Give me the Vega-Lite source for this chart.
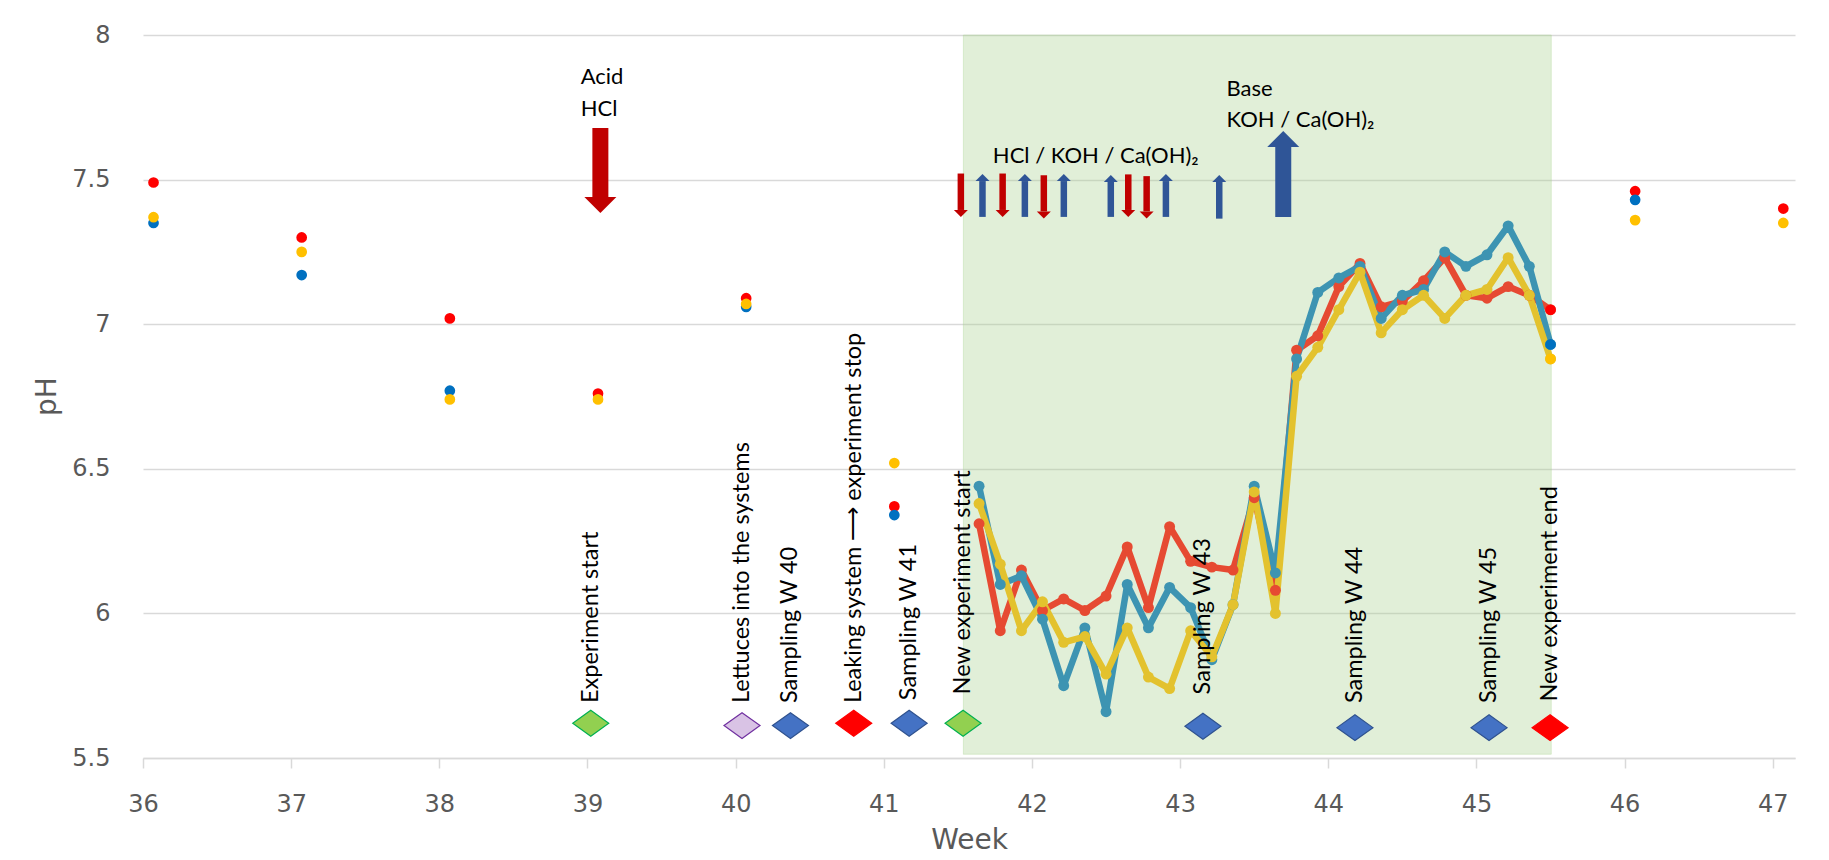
{
  "$schema": "https://vega.github.io/schema/vega-lite/v6.json",
  "width": 1652,
  "height": 723,
  "autosize": {"type": "none"},
  "padding": {"left": 143, "top": 35, "right": 34, "bottom": 102},
  "background": "white",
  "config": {
    "view": {"stroke": null},
    "font": "Lato",
    "axisX": {"grid": false, "domain": true, "domainColor": "#D9D9D9", "domainWidth": 1.5,
      "ticks": true, "tickColor": "#D9D9D9", "tickSize": 10, "tickWidth": 1.5,
      "labelFont": "DejaVu Sans", "labelFontSize": 24, "labelColor": "#595959", "labelPadding": 24, "labelDx": 10,
      "labelFlush": false, "labelOverlap": false,
      "titleFont": "DejaVu Sans", "titleFontSize": 28, "titleFontWeight": "normal", "titleColor": "#595959",
      "titleX": 826, "titleY": 82, "titleAlign": "center", "titleBaseline": "middle"},
    "axisY": {"grid": true, "gridColor": "#D9D9D9", "gridWidth": 1.5, "domain": false, "ticks": false,
      "labelFont": "DejaVu Sans", "labelFontSize": 24, "labelColor": "#595959", "labelPadding": 33,
      "titleFont": "DejaVu Sans", "titleFontSize": 28, "titleFontWeight": "normal", "titleColor": "#595959",
      "titleX": -96, "titleY": 361, "titleAngle": 270, "titleAlign": "center", "titleBaseline": "middle"}
  },
  "datasets": {
    "period": [{"start": 41.537, "end": 45.505, "low": 5.513, "high": 8}],
    "lines": [
      {"system": "A", "week": 41.643, "ph": 6.31}, {"system": "A", "week": 41.786, "ph": 5.94}, {"system": "A", "week": 41.929, "ph": 6.15}, {"system": "A", "week": 42.071, "ph": 6.01},
      {"system": "A", "week": 42.214, "ph": 6.05}, {"system": "A", "week": 42.357, "ph": 6.01}, {"system": "A", "week": 42.5, "ph": 6.06}, {"system": "A", "week": 42.643, "ph": 6.23},
      {"system": "A", "week": 42.786, "ph": 6.02}, {"system": "A", "week": 42.929, "ph": 6.30}, {"system": "A", "week": 43.071, "ph": 6.18}, {"system": "A", "week": 43.214, "ph": 6.16},
      {"system": "A", "week": 43.357, "ph": 6.15}, {"system": "A", "week": 43.5, "ph": 6.40}, {"system": "A", "week": 43.643, "ph": 6.08}, {"system": "A", "week": 43.786, "ph": 6.91},
      {"system": "A", "week": 43.929, "ph": 6.96}, {"system": "A", "week": 44.071, "ph": 7.13}, {"system": "A", "week": 44.214, "ph": 7.21}, {"system": "A", "week": 44.357, "ph": 7.06},
      {"system": "A", "week": 44.5, "ph": 7.08}, {"system": "A", "week": 44.643, "ph": 7.15}, {"system": "A", "week": 44.786, "ph": 7.23}, {"system": "A", "week": 44.929, "ph": 7.10},
      {"system": "A", "week": 45.071, "ph": 7.09}, {"system": "A", "week": 45.214, "ph": 7.13}, {"system": "A", "week": 45.357, "ph": 7.10}, {"system": "A", "week": 45.5, "ph": 7.05},
      {"system": "B", "week": 41.643, "ph": 6.44}, {"system": "B", "week": 41.786, "ph": 6.10}, {"system": "B", "week": 41.929, "ph": 6.13}, {"system": "B", "week": 42.071, "ph": 5.98},
      {"system": "B", "week": 42.214, "ph": 5.75}, {"system": "B", "week": 42.357, "ph": 5.95}, {"system": "B", "week": 42.5, "ph": 5.66}, {"system": "B", "week": 42.643, "ph": 6.10},
      {"system": "B", "week": 42.786, "ph": 5.95}, {"system": "B", "week": 42.929, "ph": 6.09}, {"system": "B", "week": 43.071, "ph": 6.02}, {"system": "B", "week": 43.214, "ph": 5.84},
      {"system": "B", "week": 43.357, "ph": 6.03}, {"system": "B", "week": 43.5, "ph": 6.44}, {"system": "B", "week": 43.643, "ph": 6.14}, {"system": "B", "week": 43.786, "ph": 6.88},
      {"system": "B", "week": 43.929, "ph": 7.11}, {"system": "B", "week": 44.071, "ph": 7.16}, {"system": "B", "week": 44.214, "ph": 7.20}, {"system": "B", "week": 44.357, "ph": 7.02},
      {"system": "B", "week": 44.5, "ph": 7.10}, {"system": "B", "week": 44.643, "ph": 7.12}, {"system": "B", "week": 44.786, "ph": 7.25}, {"system": "B", "week": 44.929, "ph": 7.20},
      {"system": "B", "week": 45.071, "ph": 7.24}, {"system": "B", "week": 45.214, "ph": 7.34}, {"system": "B", "week": 45.357, "ph": 7.20}, {"system": "B", "week": 45.5, "ph": 6.93},
      {"system": "C", "week": 41.643, "ph": 6.38}, {"system": "C", "week": 41.786, "ph": 6.17}, {"system": "C", "week": 41.929, "ph": 5.94}, {"system": "C", "week": 42.071, "ph": 6.04},
      {"system": "C", "week": 42.214, "ph": 5.90}, {"system": "C", "week": 42.357, "ph": 5.92}, {"system": "C", "week": 42.5, "ph": 5.79}, {"system": "C", "week": 42.643, "ph": 5.95},
      {"system": "C", "week": 42.786, "ph": 5.78}, {"system": "C", "week": 42.929, "ph": 5.74}, {"system": "C", "week": 43.071, "ph": 5.94}, {"system": "C", "week": 43.214, "ph": 5.85},
      {"system": "C", "week": 43.357, "ph": 6.03}, {"system": "C", "week": 43.5, "ph": 6.42}, {"system": "C", "week": 43.643, "ph": 6.00}, {"system": "C", "week": 43.786, "ph": 6.82},
      {"system": "C", "week": 43.929, "ph": 6.92}, {"system": "C", "week": 44.071, "ph": 7.05}, {"system": "C", "week": 44.214, "ph": 7.18}, {"system": "C", "week": 44.357, "ph": 6.97},
      {"system": "C", "week": 44.5, "ph": 7.05}, {"system": "C", "week": 44.643, "ph": 7.10}, {"system": "C", "week": 44.786, "ph": 7.02}, {"system": "C", "week": 44.929, "ph": 7.10},
      {"system": "C", "week": 45.071, "ph": 7.12}, {"system": "C", "week": 45.214, "ph": 7.23}, {"system": "C", "week": 45.357, "ph": 7.10}, {"system": "C", "week": 45.5, "ph": 6.88}
    ],
    "dots": [
      {"system": "A", "week": 36.071, "ph": 7.49}, {"system": "B", "week": 36.071, "ph": 7.35}, {"system": "C", "week": 36.071, "ph": 7.37},
      {"system": "A", "week": 37.071, "ph": 7.30}, {"system": "B", "week": 37.071, "ph": 7.17}, {"system": "C", "week": 37.071, "ph": 7.25},
      {"system": "A", "week": 38.071, "ph": 7.02}, {"system": "B", "week": 38.071, "ph": 6.77}, {"system": "C", "week": 38.071, "ph": 6.74},
      {"system": "A", "week": 39.071, "ph": 6.76}, {"system": "C", "week": 39.071, "ph": 6.74},
      {"system": "A", "week": 40.071, "ph": 7.09}, {"system": "B", "week": 40.071, "ph": 7.06}, {"system": "C", "week": 40.071, "ph": 7.07},
      {"system": "A", "week": 41.071, "ph": 6.37}, {"system": "B", "week": 41.071, "ph": 6.34}, {"system": "C", "week": 41.071, "ph": 6.52},
      {"system": "A", "week": 45.5, "ph": 7.05}, {"system": "B", "week": 45.5, "ph": 6.93}, {"system": "C", "week": 45.5, "ph": 6.88},
      {"system": "A", "week": 46.071, "ph": 7.46}, {"system": "B", "week": 46.071, "ph": 7.43}, {"system": "C", "week": 46.071, "ph": 7.36},
      {"system": "A", "week": 47.071, "ph": 7.40}, {"system": "C", "week": 47.071, "ph": 7.35}
    ],
    "events": [
      {"week": 39.022, "ph": 5.62, "textph": 5.69, "label": "Experiment start", "kind": "start"},
      {"week": 40.043, "ph": 5.612, "textph": 5.69, "label": "Lettuces into the systems", "kind": "lettuce"},
      {"week": 40.37, "ph": 5.612, "textph": 5.69, "label": "Sampling W 40", "kind": "sampling"},
      {"week": 40.797, "ph": 5.62, "textph": 5.69, "label": "Leaking system ⟶ experiment stop", "kind": "stop"},
      {"week": 41.171, "ph": 5.62, "textph": 5.70, "label": "Sampling W 41", "kind": "sampling"},
      {"week": 41.535, "ph": 5.62, "textph": 5.72, "label": "New experiment start", "kind": "start"},
      {"week": 43.154, "ph": 5.61, "textph": 5.72, "label": "Sampling W 43", "kind": "sampling"},
      {"week": 44.18, "ph": 5.605, "textph": 5.69, "label": "Sampling W 44", "kind": "sampling"},
      {"week": 45.085, "ph": 5.605, "textph": 5.69, "label": "Sampling W 45", "kind": "sampling"},
      {"week": 45.497, "ph": 5.605, "textph": 5.695, "label": "New experiment end", "kind": "stop"}
    ],
    "notes": [
      {"week": 38.954, "ph": 7.83, "text": "Acid"},
      {"week": 38.954, "ph": 7.72, "text": "HCl"},
      {"week": 41.736, "ph": 7.558, "text": "HCl / KOH / Ca(OH)₂"},
      {"week": 43.313, "ph": 7.789, "text": "Base"},
      {"week": 43.313, "ph": 7.683, "text": "KOH / Ca(OH)₂"}
    ],
    "arrows": [
      {"week": 39.087, "tail": 7.678, "neck": 7.44, "dir": "down", "dose": "large"},
      {"week": 43.696, "tail": 7.371, "neck": 7.613, "dir": "up", "dose": "large"},
      {"week": 41.52, "tail": 7.521, "neck": 7.395, "dir": "down", "dose": "small"},
      {"week": 41.666, "tail": 7.371, "neck": 7.495, "dir": "up", "dose": "small"},
      {"week": 41.802, "tail": 7.521, "neck": 7.395, "dir": "down", "dose": "small"},
      {"week": 41.952, "tail": 7.371, "neck": 7.495, "dir": "up", "dose": "small"},
      {"week": 42.08, "tail": 7.515, "neck": 7.39, "dir": "down", "dose": "small"},
      {"week": 42.215, "tail": 7.371, "neck": 7.495, "dir": "up", "dose": "small"},
      {"week": 42.532, "tail": 7.371, "neck": 7.492, "dir": "up", "dose": "small"},
      {"week": 42.65, "tail": 7.518, "neck": 7.395, "dir": "down", "dose": "small"},
      {"week": 42.774, "tail": 7.512, "neck": 7.39, "dir": "down", "dose": "small"},
      {"week": 42.904, "tail": 7.371, "neck": 7.495, "dir": "up", "dose": "small"},
      {"week": 43.264, "tail": 7.365, "neck": 7.492, "dir": "up", "dose": "small"}
    ]
  },
  "layer": [
    {
      "data": {"name": "period"},
      "mark": {"type": "rect", "fill": "#A9D18E", "fillOpacity": 0.35, "stroke": "#A9D18E", "strokeOpacity": 0.35, "strokeWidth": 1},
      "encoding": {
        "x": {"field": "start", "type": "quantitative", "title": "Week",
          "scale": {"domain": [36, 47.15], "nice": false, "zero": false},
          "axis": {"values": [36, 37, 38, 39, 40, 41, 42, 43, 44, 45, 46, 47], "format": "d", "title": "Week"}},
        "x2": {"field": "end"},
        "y": {"field": "low", "type": "quantitative", "title": "pH",
          "scale": {"domain": [5.5, 8], "nice": false, "zero": false},
          "axis": {"values": [5.5, 6, 6.5, 7, 7.5, 8], "format": "~g", "title": "pH"}},
        "y2": {"field": "high"}
      }
    },
    {
      "data": {"name": "lines"},
      "mark": {"type": "line", "strokeWidth": 6.5, "strokeJoin": "round", "point": {"filled": true, "size": 120, "opacity": 1}},
      "encoding": {
        "x": {"field": "week", "type": "quantitative"},
        "y": {"field": "ph", "type": "quantitative"},
        "color": {"field": "system", "type": "nominal", "scale": {"domain": ["A", "B", "C"], "range": ["#E64A32", "#3D94B2", "#E3C22E"]}, "legend": null}
      }
    },
    {
      "data": {"name": "dots"},
      "mark": {"type": "point", "filled": true, "size": 115, "opacity": 1},
      "encoding": {
        "x": {"field": "week", "type": "quantitative"},
        "y": {"field": "ph", "type": "quantitative"},
        "color": {"field": "system", "type": "nominal", "scale": {"domain": ["A", "B", "C"], "range": ["#FF0000", "#0070C0", "#FFC000"]}, "legend": null}
      }
    },
    {
      "data": {"name": "events"},
      "mark": {"type": "point", "filled": true, "size": 1296, "shape": "M-1,0L0,-0.72L1,0L0,0.72Z", "opacity": 1, "strokeWidth": 1.2},
      "encoding": {
        "x": {"field": "week", "type": "quantitative"},
        "y": {"field": "ph", "type": "quantitative"},
        "fill": {"field": "kind", "type": "nominal", "scale": {"domain": ["start", "lettuce", "sampling", "stop"], "range": ["#92D050", "#D9C3E5", "#4472C4", "#FF0000"]}, "legend": null},
        "stroke": {"field": "kind", "type": "nominal", "scale": {"domain": ["start", "lettuce", "sampling", "stop"], "range": ["#00B050", "#7030A0", "#2F528F", "#FF0000"]}, "legend": null}
      }
    },
    {
      "data": {"name": "events"},
      "mark": {"type": "text", "angle": 270, "align": "left", "baseline": "middle", "font": "Lato", "fontSize": 23.5, "color": "#000000"},
      "encoding": {
        "x": {"field": "week", "type": "quantitative"},
        "y": {"field": "textph", "type": "quantitative"},
        "text": {"field": "label"}
      }
    },
    {
      "data": {"name": "arrows"},
      "mark": {"type": "rule", "strokeCap": "butt"},
      "encoding": {
        "x": {"field": "week", "type": "quantitative"},
        "y": {"field": "tail", "type": "quantitative"},
        "y2": {"field": "neck"},
        "color": {"field": "dir", "type": "nominal", "scale": {"domain": ["down", "up"], "range": ["#C00000", "#2F5597"]}, "legend": null},
        "size": {"field": "dose", "type": "ordinal", "scale": {"domain": ["large", "small"], "range": [16, 6.5]}, "legend": null}
      }
    },
    {
      "data": {"name": "arrows"},
      "mark": {"type": "point", "filled": true, "opacity": 1},
      "encoding": {
        "x": {"field": "week", "type": "quantitative"},
        "y": {"field": "neck", "type": "quantitative"},
        "color": {"field": "dir", "type": "nominal", "scale": {"domain": ["down", "up"], "range": ["#C00000", "#2F5597"]}, "legend": null},
        "shape": {"field": "dir", "type": "nominal", "scale": {"domain": ["down", "up"], "range": ["M-1,0L1,0L0,1Z", "M-1,0L1,0L0,-1Z"]}, "legend": null},
        "size": {"field": "dose", "type": "ordinal", "scale": {"domain": ["large", "small"], "range": [1024, 196]}, "legend": null}
      }
    },
    {
      "data": {"name": "notes"},
      "mark": {"type": "text", "align": "left", "baseline": "alphabetic", "font": "Lato", "fontSize": 22, "color": "#000000"},
      "encoding": {
        "x": {"field": "week", "type": "quantitative"},
        "y": {"field": "ph", "type": "quantitative"},
        "text": {"field": "text"}
      }
    }
  ],
  "resolve": {"scale": {"color": "independent", "fill": "independent", "stroke": "independent", "shape": "independent", "size": "independent"}}
}
